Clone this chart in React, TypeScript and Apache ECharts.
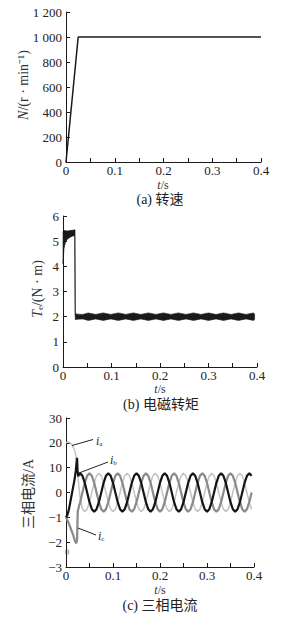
import React, { useEffect, useRef } from 'react';
import * as echarts from 'echarts';

// ---------- tick labels ----------
const timeTickLabels = ['0', '0.1', '0.2', '0.3', '0.4'];
const speedTickLabels = ['0', '200', '400', '600', '800', '1 000', '1 200'];
const torqueTickLabels = ['0', '1', '2', '3', '4', '5', '6'];
const currentTickLabels = ['−3', '−2', '−1', '0', '10', '20', '30'];

// ---------- (a) speed ----------
const speedTimes = [0, 0.025, 0.4];
const speedValues = [0, 1000, 1000];

// ---------- (b) torque band (lower / upper envelope) ----------
const torqueTimes = [0, 0.002, 0.005, 0.009, 0.014, 0.019, 0.024, 0.0248, 0.0255, 0.03, 0.041, 0.052, 0.0675, 0.083, 0.0985, 0.114, 0.1295, 0.145, 0.1605, 0.176, 0.1915, 0.207, 0.2225, 0.238, 0.2535, 0.269, 0.2845, 0.3, 0.3155, 0.331, 0.3465, 0.362, 0.3775, 0.393, 0.395];
const torqueLow = [4.1, 4.7, 4.95, 5.08, 5.15, 5.2, 5.22, 2.1, 1.88, 1.9, 1.91, 1.85, 1.91, 1.85, 1.91, 1.85, 1.91, 1.85, 1.91, 1.85, 1.91, 1.85, 1.91, 1.85, 1.91, 1.85, 1.91, 1.85, 1.91, 1.85, 1.91, 1.85, 1.91, 1.85, 1.9];
const torqueHigh = [5.4, 5.42, 5.42, 5.4, 5.42, 5.43, 5.45, 5.45, 2.13, 2.1, 2.09, 2.15, 2.09, 2.15, 2.09, 2.15, 2.09, 2.15, 2.09, 2.15, 2.09, 2.15, 2.09, 2.15, 2.09, 2.15, 2.09, 2.15, 2.09, 2.15, 2.09, 2.15, 2.09, 2.15, 2.1];

// ---------- (c) three-phase currents ----------
const iaStartTimes = [0, 0.004, 0.008, 0.012, 0.016, 0.02, 0.023, 0.026];
const iaStartValues = [20, 20.5, 20, 19.5, 18, 16, 12, 5];
const ibStartTimes = [0, 0.003, 0.006, 0.01, 0.014, 0.018, 0.021, 0.0235, 0.0245, 0.026, 0.028];
const ibStartValues = [-10, -9, -7, -3, 1, 5, 9, 14, 9, 6.5, 7.3];
const icStartTimes = [0, 0.005, 0.01, 0.015, 0.019, 0.022, 0.0235, 0.025];
const icStartValues = [-10, -12, -14.5, -17, -19.5, -20.5, -19, -7.5];

const steadyTimes = [0.03, 0.035, 0.04, 0.045, 0.05, 0.055, 0.06, 0.065, 0.07, 0.075, 0.08, 0.085, 0.09, 0.095, 0.1, 0.105, 0.11, 0.115, 0.12, 0.125, 0.13, 0.135, 0.14, 0.145, 0.15, 0.155, 0.16, 0.165, 0.17, 0.175, 0.18, 0.185, 0.19, 0.195, 0.2, 0.205, 0.21, 0.215, 0.22, 0.225, 0.23, 0.235, 0.24, 0.245, 0.25, 0.255, 0.26, 0.265, 0.27, 0.275, 0.28, 0.285, 0.29, 0.295, 0.3, 0.305, 0.31, 0.315, 0.32, 0.325, 0.33, 0.335, 0.34, 0.345, 0.35, 0.355, 0.36, 0.365, 0.37, 0.375, 0.38, 0.385, 0.39, 0.395];
const iaSteady = [
  -2, -6.7, -7.7, -6.7, -3.9, 0, 3.9, 6.7, 7.7, 6.7, 3.9, 0,
  -3.9, -6.7, -7.7, -6.7, -3.9, 0, 3.9, 6.7, 7.7, 6.7, 3.9, 0,
  -3.9, -6.7, -7.7, -6.7, -3.9, 0, 3.9, 6.7, 7.7, 6.7, 3.9, 0,
  -3.9, -6.7, -7.7, -6.7, -3.9, 0, 3.9, 6.7, 7.7, 6.7, 3.9, 0,
  -3.9, -6.7, -7.7, -6.7, -3.9, 0, 3.9, 6.7, 7.7, 6.7, 3.9, 0,
  -3.9, -6.7, -7.7, -6.7, -3.9, 0, 3.9, 6.7, 7.7, 6.7, 3.9, 0,
  -3.9, -6.7,
];
const ibSteady = [
  7.7, 6.7, 3.9, 0, -3.9, -6.7, -7.7, -6.7, -3.9, 0, 3.9, 6.7,
  7.7, 6.7, 3.9, 0, -3.9, -6.7, -7.7, -6.7, -3.9, 0, 3.9, 6.7,
  7.7, 6.7, 3.9, 0, -3.9, -6.7, -7.7, -6.7, -3.9, 0, 3.9, 6.7,
  7.7, 6.7, 3.9, 0, -3.9, -6.7, -7.7, -6.7, -3.9, 0, 3.9, 6.7,
  7.7, 6.7, 3.9, 0, -3.9, -6.7, -7.7, -6.7, -3.9, 0, 3.9, 6.7,
  7.7, 6.7, 3.9, 0, -3.9, -6.7, -7.7, -6.7, -3.9, 0, 3.9, 6.7,
  7.7, 6.7,
];
const icSteady = [
  -3.9, 0, 3.9, 6.7, 7.7, 6.7, 3.9, 0, -3.9, -6.7, -7.7, -6.7,
  -3.9, 0, 3.9, 6.7, 7.7, 6.7, 3.9, 0, -3.9, -6.7, -7.7, -6.7,
  -3.9, 0, 3.9, 6.7, 7.7, 6.7, 3.9, 0, -3.9, -6.7, -7.7, -6.7,
  -3.9, 0, 3.9, 6.7, 7.7, 6.7, 3.9, 0, -3.9, -6.7, -7.7, -6.7,
  -3.9, 0, 3.9, 6.7, 7.7, 6.7, 3.9, 0, -3.9, -6.7, -7.7, -6.7,
  -3.9, 0, 3.9, 6.7, 7.7, 6.7, 3.9, 0, -3.9, -6.7, -7.7, -6.7,
  -3.9, 0,
];

const SERIF = '"Liberation Serif", "Times New Roman", serif';
const CJK = '"Liberation Serif", "Noto Sans CJK SC", serif';
const INK = '#1a1a1a';
const NAME = '#333';

const pairs = (ts: number[], vs: number[]) => ts.map((t, i) => [t, vs[i]]);

function xAxisFor(gridIndex: number) {
  return {
    type: 'value', gridIndex, min: 0, max: 0.4, interval: 0.05,
    axisLine: { show: true, onZero: false, lineStyle: { color: INK, width: 1 } },
    axisTick: { show: true, inside: true, length: 4, lineStyle: { color: INK } },
    splitLine: { show: false },
    axisLabel: {
      margin: 2, color: '#222', fontFamily: SERIF, fontSize: 13, lineHeight: 12,
      showMaxLabel: true, showMinLabel: true,
      formatter: (v: number) => {
        const r = Math.round(v * 100);
        if (r % 10 !== 0) return '';
        return timeTickLabels[r / 10] ?? '';
      },
    },
  };
}

function yAxisFor(gridIndex: number, min: number, max: number, interval: number, labels: string[]) {
  return {
    type: 'value', gridIndex, min, max, interval,
    axisLine: { show: true, onZero: false, lineStyle: { color: INK, width: 1 } },
    axisTick: { show: true, inside: true, length: 4, lineStyle: { color: INK } },
    splitLine: { show: false },
    axisLabel: {
      margin: 4, color: '#222', fontFamily: SERIF, fontSize: 13, showMaxLabel: true, showMinLabel: true,
      formatter: (v: number) => labels[Math.round((v - min) / interval)] ?? '',
    },
  };
}

function txt(x: number, y: number, text: string, rich: any, opts: any = {}) {
  return {
    type: 'text', x, y, z: 100, rotation: opts.rotation || 0,
    style: {
      text, rich, fill: NAME, fontFamily: SERIF, fontSize: 14,
      align: opts.align || 'center', verticalAlign: 'middle',
      textAlign: opts.align || 'center', textVerticalAlign: 'middle',
    },
  };
}

const R = (size: number, italic = false, family = SERIF, fill = NAME, extra: any = {}) => ({
  fontFamily: family, fontSize: size, fontStyle: italic ? 'italic' : 'normal', fill, color: fill, ...extra,
});
const SUB = (size: number, fill = NAME) => R(size, false, SERIF, fill, { verticalAlign: 'bottom', lineHeight: size });

function leader(x1: number, y1: number, x2: number, y2: number) {
  return { type: 'line', z: 100, shape: { x1, y1, x2, y2 }, style: { stroke: '#222', lineWidth: 1 } };
}

export default function App() {
  const ref = useRef<HTMLDivElement>(null);
  useEffect(() => {
    if (!ref.current) return;
    const chart = echarts.init(ref.current, undefined, { renderer: 'svg' });
    const option: any = {
      animation: false,
      backgroundColor: '#fff',
      grid: [
        { left: 66, top: 12, width: 195, height: 150 },
        { left: 63, top: 216, width: 194, height: 151 },
        { left: 66, top: 418, width: 188, height: 149 },
      ],
      xAxis: [xAxisFor(0), xAxisFor(1), xAxisFor(2)],
      yAxis: [
        yAxisFor(0, 0, 1200, 200, speedTickLabels),
        yAxisFor(1, 0, 6, 1, torqueTickLabels),
        yAxisFor(2, -30, 30, 10, currentTickLabels),
      ],
      series: [
        {
          type: 'line', xAxisIndex: 0, yAxisIndex: 0, data: pairs(speedTimes, speedValues),
          showSymbol: false, lineStyle: { color: INK, width: 1.5 },
        },
        {
          type: 'custom', xAxisIndex: 1, yAxisIndex: 1,
          data: torqueTimes.map((t, i) => [t, torqueLow[i], torqueHigh[i]]),
          encode: { x: 0, y: [1, 2] },
          renderItem: (params: any, api: any) => {
            if (params.dataIndex !== 0) return null;
            const pts: number[][] = [];
            for (let i = 0; i < torqueTimes.length; i++) pts.push(api.coord([torqueTimes[i], torqueHigh[i]]));
            for (let i = torqueTimes.length - 1; i >= 0; i--) pts.push(api.coord([torqueTimes[i], torqueLow[i]]));
            return {
              type: 'polygon',
              shape: { points: pts },
              style: { fill: INK, stroke: INK, lineWidth: 0.6 },
            };
          },
        },
        {
          type: 'line', xAxisIndex: 2, yAxisIndex: 2,
          data: pairs(iaStartTimes, iaStartValues).concat(pairs(steadyTimes, iaSteady)),
          showSymbol: false, lineStyle: { color: '#c4c4c4', width: 1.5 },
        },
        {
          type: 'line', xAxisIndex: 2, yAxisIndex: 2,
          data: pairs(icStartTimes, icStartValues).concat(pairs(steadyTimes, icSteady)),
          showSymbol: false, lineStyle: { color: '#8a8a8a', width: 2.2 },
        },
        {
          type: 'line', xAxisIndex: 2, yAxisIndex: 2,
          data: pairs(ibStartTimes, ibStartValues).concat(pairs(steadyTimes, ibSteady)),
          showSymbol: false, lineStyle: { color: '#141414', width: 2.2 },
        },
      ],
      graphic: [
        // (a)
        txt(23, 85, '{it|N}{n|/(r · min⁻¹)}', { it: R(14, true), n: R(14) }, { rotation: Math.PI / 2 }),
        txt(163, 185, '{it|t}{n|/s}', { it: R(12, true), n: R(12) }),
        txt(160, 199, '{n|(a) 转速}', { n: R(14, false, CJK, '#222') }),
        // (b)
        txt(37, 289, '{it|T}{sub|e}{n|/(N · m)}', { it: R(14, true), sub: SUB(9), n: R(14) }, { rotation: Math.PI / 2 }),
        txt(160, 389, '{it|t}{n|/s}', { it: R(12, true), n: R(12) }),
        txt(161, 404, '{n|(b) 电磁转矩}', { n: R(14, false, CJK, '#222') }),
        // (c)
        txt(28, 494, '{n|三相电流/A}', { n: R(14, false, CJK) }, { rotation: Math.PI / 2 }),
        txt(160, 590, '{it|t}{n|/s}', { it: R(12, true), n: R(12) }),
        txt(160, 605, '{n|(c) 三相电流}', { n: R(14, false, CJK, '#222') }),
        txt(67, 552, '{n|0}', { n: R(8, false, SERIF, '#555') }),
        leader(72, 445.5, 93, 439.5),
        leader(79, 473, 108, 462),
        leader(78, 528, 96, 535),
        txt(96, 441, '{it|i}{sub|a}', { it: R(12, true, SERIF, '#222'), sub: SUB(7, '#222') }, { align: 'left' }),
        txt(110, 460, '{it|i}{sub|b}', { it: R(12, true, SERIF, '#222'), sub: SUB(7, '#222') }, { align: 'left' }),
        txt(98, 536, '{it|i}{sub|c}', { it: R(12, true, SERIF, '#222'), sub: SUB(7, '#222') }, { align: 'left' }),
      ],
    };
    chart.setOption(option);
    return () => chart.dispose();
  }, []);
  return (
    <div
      ref={ref}
      style={{ position: 'absolute', left: 0, top: 0, width: 296, height: 620, background: '#fff' }}
    />
  );
}
